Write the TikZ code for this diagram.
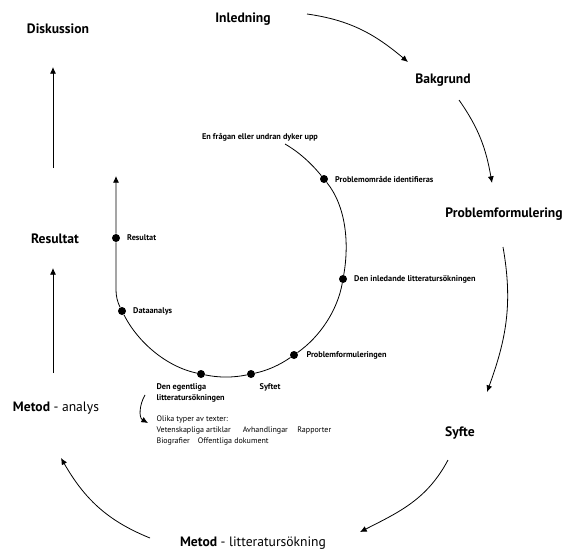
\documentclass[tikz,border=0pt]{standalone}
\usepackage{fontspec}
\setmainfont{PT Sans}
\usepackage{tikz}
\usetikzlibrary{calc}
\usetikzlibrary{arrows.meta}
\usetikzlibrary{positioning}

\tikzset{
  stor/.style={font=\bfseries\fontsize{10.2}{12}\selectfont},
  liten/.style={font=\bfseries\fontsize{6.2}{8.25}\selectfont,inner sep=1pt},
  brod/.style={font=\fontsize{6}{8.25}\selectfont,inner sep=1pt},
  punkt/.style={circle,fill=black,inner sep=0,minimum size=6pt},
  pil/.style={-{Latex[length=5pt,width=4.5pt]},line width=0.6pt},
}

\begin{document}
\begin{tikzpicture}[x=0.75pt,y=-0.75pt]%[every node/.style={draw}]
    \useasboundingbox (0,0) rectangle (571,551);
    % yttre kretsen
    \node(disk)[stor] at (58,29) {Diskussion};
    \node(inl)[stor] at (243,19) {Inledning};
    \node(bak)[stor] at (443,80) {Bakgrund};
    \node(pform)[stor] at (504,214) {Problemformulering};
    \node(syf)[stor] at (460,433) {Syfte};
    \node(mlit)[stor] at (253,543) {Metod {\mdseries - litteratursökning}};
    \node(mana)[stor] at (56,408) {Metod {\mdseries - analys}};
    \node(res)[stor] at (55,239) {Resultat};

    \draw[pil] ($(inl)+(64,-5)$) to[out=-8,in=140] ($(bak)+(-35,-18)$);
    \draw[pil] ($(bak)+(16,20)$) to[out=-55,in=100] ($(pform)+(-12,-31)$);
    \draw[pil] ($(pform)+(-1,33)$) to[out=-80,in=70] ($(syf)+(27,-41)$);
    \draw[pil] ($(syf)+(-12,27)$) to[out=-118,in=27] ($(mlit)+(107,-11)$);
    \draw[pil] ($(mlit)+(-103,-5)$) to[out=158,in=-60] ($(mana)+(5,50)$);
    \draw[pil] ($(mana)+(-3,-35)$) -- ($(res)+(-2,29)$);
    \draw[pil] ($(res)+(-2,-71)$) -- ($(disk)+(-5,38)$);

    % inre kretsen
    \node(frag)[liten] at (260,137) {En frågan eller undran dyker upp};
    \node(p1)[punkt] at (324,179) {};
    \node(p2)[punkt] at (343,279) {};
    \node(p3)[punkt] at (294,355) {};
    \node(p4)[punkt] at (251,374) {};
    \node(p5)[punkt] at (201,374) {};
    \node(p6)[punkt] at (122,311) {};
    \node(r1)[punkt] at (116,238) {};

    \node(t1)[liten,right=4pt of p1] {Problemområde identifieras};
    \node(t2)[liten,right=4pt of p2] {Den inledande litteratursökningen};
    \node(t3)[liten,right=5pt of p3] {Problemformuleringen};
    \node(t4)[liten,below right=4pt and 3pt of p4] {Syftet};
    \node(egl)[liten,align=left,anchor=north west] at (155,382) {Den egentliga\\litteratursökningen};
    \node(t6)[liten,right=4pt of p6] {Dataanalys};
    \node(t7)[liten,right=4pt of r1] {Resultat};

    \draw[pil,looseness=0.85] ($(frag)+(25,7)$) to[out=-30,in=129] (p1)
        to[out=-51,in=80] (p2) to[out=-100,in=35] (p3) to[out=-145,in=12] (p4)
        to[out=-168,in=-12] (p5) to[out=168,in=-63] (p6)
        to[out=117,in=-90] ($(r1)+(0,52)$) -- (r1) -- ($(r1)+(0,-62)$);

    \node(typer)[brod,align=left,anchor=north west] at (155,414) {Olika typer av texter:\\Vetenskapliga artiklar\hspace{9pt}Avhandlingar\hspace{7pt}Rapporter\\Biografier\hspace{6pt}Offentliga dokument};
    \draw[pil] ($(egl.west)+(-10,2)$) to[out=-120,in=150] ($(typer.north west)+(-7,9)$);
\end{tikzpicture}
\end{document}
